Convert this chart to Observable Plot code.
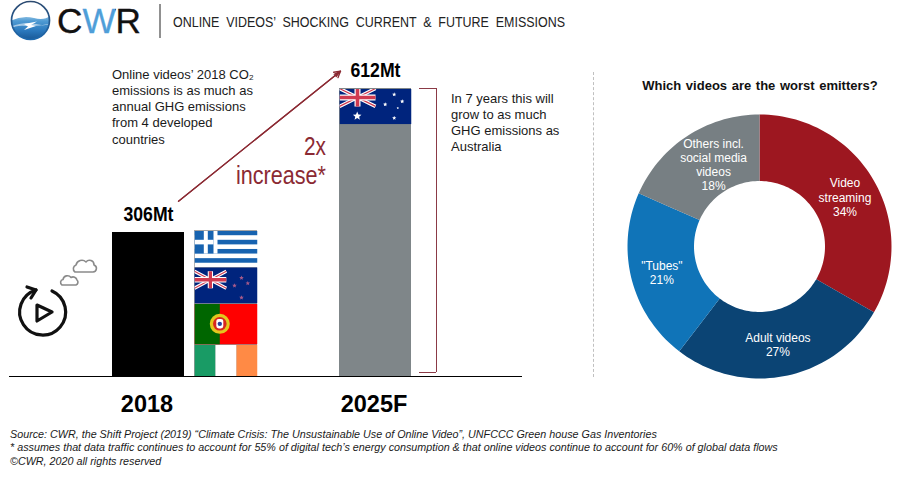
<!DOCTYPE html>
<html><head><meta charset="utf-8">
<script src="https://cdn.jsdelivr.net/npm/d3@7"></script>
<script src="https://cdn.jsdelivr.net/npm/@observablehq/plot@0.6"></script>
<style>
html,body{margin:0;padding:0;background:#fff}
#page{position:relative;width:905px;height:485px;overflow:hidden;font-family:"Liberation Sans",Arial,sans-serif;color:#111}
#page>*{position:absolute}
#page svg{overflow:visible}
.note{font-size:13px;line-height:16.3px;white-space:pre;color:#1a1a1a}
</style></head><body>
<div id="page">
<svg style="left:0;top:0" width="600" height="44" viewBox="0 0 600 44">
 <defs>
  <linearGradient id="g" x1="0" y1="0" x2="0" y2="1"><stop offset="0" stop-color="#a9cfe9"/><stop offset=".25" stop-color="#4f9bd3"/><stop offset=".6" stop-color="#2a78bd"/><stop offset="1" stop-color="#14508c"/></linearGradient>
  <linearGradient id="ring" x1="0" y1="0" x2="0" y2="1"><stop offset="0" stop-color="#2c4a70"/><stop offset="1" stop-color="#1d68ad"/></linearGradient>
  <linearGradient id="cwr" gradientUnits="userSpaceOnUse" x1="57" y1="0" x2="141" y2="0"><stop offset=".301" stop-color="#111"/><stop offset=".301" stop-color="#4f9ed8"/><stop offset=".694" stop-color="#4f9ed8"/><stop offset=".694" stop-color="#111"/></linearGradient>
  <clipPath id="globe"><circle cx="30.500" cy="20.500" r="19"/></clipPath>
 </defs>
 <circle cx="30.500" cy="20.500" r="19" fill="#fff"/>
 <g clip-path="url(#globe)">
  <path d="M10 21Q22 15 34 18T52 14V42H10Z" fill="url(#g)"/>
  <path d="M10 27Q24 21 36 24T52 22V23Q38 27 26 26T10 30Z" fill="#cfe3f2" opacity=".7"/>
  <path d="M24 24L37 21.500L31 25L36 26L24 30L28 26.500Z" fill="#fff"/>
 </g>
 <circle cx="30.500" cy="20.500" r="19" fill="none" stroke="url(#ring)" stroke-width="1.700"/>
 <text x="57" y="33" font-size="35" textLength="84" lengthAdjust="spacingAndGlyphs" fill="url(#cwr)" stroke="url(#cwr)" stroke-width=".3">CWR</text>
 <line x1="160" y1="4" x2="160" y2="38" stroke="#222" stroke-width="1"/>
 <text x="173" y="27" font-size="15" word-spacing="4" textLength="392" lengthAdjust="spacingAndGlyphs" fill="#222">ONLINE VIDEOS’ SHOCKING CURRENT &amp; FUTURE EMISSIONS</text>
</svg>
<div id="bars" style="left:0;top:0"></div>
<div class="note" style="left:112px;top:66.500px">Online videos’ 2018 CO₂
emissions is as much as
annual GHG emissions
from 4 developed
countries</div>
<svg style="left:225px;top:130px" width="105" height="60" viewBox="225 130 105 60">
 <g font-size="25.500" fill="#8b2a33" text-anchor="end">
  <text x="326" y="155" textLength="22" lengthAdjust="spacingAndGlyphs">2x</text>
  <text x="326" y="183.500" textLength="90" lengthAdjust="spacingAndGlyphs">increase*</text>
 </g>
</svg>
<div class="note" style="left:451px;top:90.500px">In 7 years this will
grow to as much
GHG emissions as
Australia</div>
<svg style="left:14px;top:255px" width="85" height="85" viewBox="14 255 85 85" fill="none">
 <g stroke="#111" stroke-width="3.200" stroke-linecap="round" stroke-linejoin="round">
  <path d="M52 291A23 23 0 1 1 36 290"/>
  <path d="M27 287L36 290L31 298"/>
  <path d="M37 305L52 312L37 321Z"/>
 </g>
 <g stroke="#8a8a8a" stroke-width="1.600" stroke-linejoin="round">
  <path d="M75 272a4 4 0 0 1 1-7a6 6 0 0 1 10-3a4.500 4.500 0 0 1 8 3a3.600 3.600 0 0 1-1 7z"/>
  <path d="M62 285a3 3 0 0 1 1-5.500a4.500 4.500 0 0 1 8-2a4 4 0 0 1 6 2.500a3 3 0 0 1-1 5z"/>
 </g>
</svg>
<div style="left:593px;top:72px;height:305px;border-left:1px dashed #c0c0c0"></div>
<div style="left:610px;width:300px;top:78px;text-align:center;font-size:13px;font-weight:bold;color:#111;word-spacing:1px">Which videos are the worst emitters?</div>
<div id="donut" style="left:627px;top:114px"></div>
<div style="left:10px;top:427.500px;font-size:10.750px;line-height:13.600px;font-style:italic;white-space:pre;color:#1a1a1a">Source: CWR, the Shift Project (2019) “Climate Crisis: The Unsustainable Use of Online Video”, UNFCCC Green house Gas Inventories
* assumes that data traffic continues to account for 55% of digital tech’s energy consumption &amp; that online videos continue to account for 60% of global data flows
©CWR, 2020 all rights reserved</div>
</div>
<script>
// ---- data ----
const barYears = ["2018", "2025F"];
const barValues = [306, 612];
const barColors = ["#000000", "#7f8689"];
const countries = ["Ireland", "Portugal", "New Zealand", "Greece"];
const countryValues = [68, 87, 77, 78];
const australiaValue = 76;
const videoTypes = ["Video streaming", "Adult videos", "\"Tubes\"", "Others incl. social media videos"];
const videoShares = [33.3, 27.1, 21.2, 18.4];
const videoLabels = ["Video\nstreaming\n34%", "Adult videos\n27%", "\"Tubes\"\n21%", "Others incl.\nsocial media\nvideos\n18%"];
const videoColors = ["#9d1720", "#0b4474", "#1074b8", "#777f83"];
const labelDx = [0, -1, -2, 8];
const labelDy = [0, 1, 1, 0.5];
const xSlots = ["2018", "Countries", "gap", "2025F"];

// ---- flags, as small pictures ----
const uri = s => "data:image/svg+xml," + encodeURIComponent(s);
const union = `<rect width="30" height="15" fill="#00247d"/><path d="M0 0L30 15M30 0L0 15" stroke="#fff" stroke-width="3"/><path d="M0 0L30 15M30 0L0 15" stroke="#cf3a50" stroke-width="1"/><path d="M15 0V15M0 7.500H30" stroke="#fff" stroke-width="5"/><path d="M15 0V15M0 7.500H30" stroke="#cf3a50" stroke-width="3"/>`;
const star = (x, y, r, c) => {
  let p = "";
  for (let i = 0; i < 10; i++) { const a = i * Math.PI / 5, q = i % 2 ? r * .45 : r; p += (i ? "L" : "M") + (x + q * Math.sin(a)).toFixed(2) + " " + (y - q * Math.cos(a)).toFixed(2); }
  return `<path d="${p}Z" fill="${c}"/>`;
};
const svgFlag = (w, h, body) => uri(`<svg xmlns="http://www.w3.org/2000/svg" viewBox="0 0 ${w} ${h}" preserveAspectRatio="none">${body}</svg>`);
const greece = svgFlag(63, 36.8, `<rect width="63" height="36.8" fill="#fff"/>` +
  [0, 9.2, 18.4, 27.6].map(y => `<rect y="${y}" width="63" height="4.600" fill="#1763b0"/>`).join("") +
  `<rect width="23" height="23" fill="#fff"/><rect width="19" height="23" fill="#1763b0"/><rect x="9.300" width="4" height="23" fill="#fff"/><rect y="9.200" width="19" height="4.600" fill="#fff"/>`);
const newZealand = svgFlag(63, 36.3, `<rect width="63" height="36.3" fill="#00247d"/><g transform="translate(0 4) scale(1.06 1.13)">${union}</g>` +
  star(47, 10.6, 2.4, "#a65a8a") + star(53.3, 16, 2.4, "#a65a8a") + star(40, 18.3, 2.4, "#a65a8a") + star(47, 30.3, 2.4, "#a65a8a"));
const portugal = svgFlag(63, 41, `<rect width="63" height="41" fill="#ff0000"/><rect width="25.300" height="41" fill="#006600"/><circle cx="25.300" cy="20.300" r="10" fill="#e3c71e"/><circle cx="25.300" cy="20.300" r="6.800" fill="#d9271e"/><rect x="21.800" y="15.500" width="7" height="9.500" rx="2.500" fill="#fff"/><circle cx="25.300" cy="20.300" r="2.200" fill="#2a3f9d"/>`);
const ireland = svgFlag(63, 32, `<rect width="21" height="32" fill="#199b65"/><rect x="21" width="21" height="32" fill="#fff"/><rect x="42" width="21" height="32" fill="#ff8a45"/>`);
const australia = svgFlag(72, 36, `<rect width="72" height="36" fill="#00247d"/><g transform="scale(1.2)">${union}</g>` +
  star(17.7, 27.700, 4.500, "#fff") + star(54.7, 6, 2.200, "#fff") + star(62.7, 13, 2.200, "#fff") + star(45.7, 16, 2.200, "#fff") + star(54.7, 29.7, 2.200, "#fff") + star(58.3, 19.7, 1.300, "#fff"));
const flagFor = {Ireland: ireland, Portugal: portugal, "New Zealand": newZealand, Greece: greece};

// ---- tables ----
const bars = barYears.map((year, i) => ({year, value: barValues[i], color: barColors[i]}));
const tops = d3.cumsum(countryValues);
const stack = countries.map((name, i) => ({name, value: countryValues[i], mid: tops[i] - countryValues[i] / 2, slot: "Countries"}));
const plotH = 485, baseY = 376, topY = 88;
const pxPerMt = (baseY - topY) / 612;
const arrowLine = [{a: "2018", b: "2025F"}];
const arrowOpts = {x1: "a", x2: "b", y1: () => 321.3, y2: () => 708.5, bend: 0, insetStart: 38.5, insetEnd: 44.9, headLength: 8, stroke: "#8b2a33", strokeWidth: 1.3};

const barChart = Plot.plot({
  width: 905, height: plotH, marginLeft: 9, marginRight: 383, marginTop: 0, marginBottom: plotH - baseY,
  style: {background: "transparent", fontFamily: "'Liberation Sans',Arial,sans-serif"},
  x: {type: "band", domain: xSlots, range: [112, 411], paddingInner: 0.0485, paddingOuter: 0, round: false},
  y: {domain: [0, 612], range: [baseY, topY], axis: null},
  marks: [
    Plot.barY(bars, {x: "year", y: "value", fill: "color"}),
    Plot.barY(stack, {x: "slot", y: "value", fill: "#999", order: null, insetLeft: 6.33, insetRight: 2.67}),
    Plot.image(stack, {x: "slot", y: "mid", width: 63, height: d => d.value * pxPerMt, src: d => flagFor[d.name], preserveAspectRatio: "none", dx: 1.83}),
    Plot.image([{year: "2025F", mid: 612 - australiaValue / 2}], {x: "year", y: "mid", width: 72, height: australiaValue * pxPerMt, src: () => australia, preserveAspectRatio: "none"}),
    Plot.text(bars, {x: "year", y: "value", text: d => d.value + "Mt", dy: -17.5, fontSize: 20, fontWeight: "bold", fill: "#000", className: "valueLabel"}),
    Plot.ruleY([0], {stroke: "#000", strokeWidth: 1}),
    Plot.axisX(barYears, {anchor: "bottom", tickSize: 0, tickPadding: 19, dx: -1.5, fontSize: 23.500, fontWeight: "bold", label: null, fill: "#000", tickFormat: d => d}),
    Plot.arrow(arrowLine, arrowOpts),
    Plot.arrow(arrowLine, {...arrowOpts, headAngle: 25}),
    Plot.ruleX(["2025F"], {x: d => d, y1: 8.5, y2: 612, dx: 61, stroke: "#8b3a46", strokeWidth: 1}),
    Plot.tickY([8.5, 612], {x: () => "2025F", y: d => d, dx: 80, insetRight: 55, stroke: "#8b3a46", strokeWidth: 1})
  ]
});
// squeeze the value labels to the condensed look of the reference
barChart.querySelectorAll(".valueLabel text").forEach(t => {
  t.setAttribute("textLength", 50);
  t.setAttribute("lengthAdjust", "spacingAndGlyphs");
});
document.getElementById("bars").append(barChart);

// ---- doughnut: ring of wedges on a polar projection ----
const OUTER = 60, INNER = 60 * 65.5 / 132;
const total = d3.sum(videoShares);
const ends = d3.cumsum(videoShares);
const toLon = turn => 180 - turn * 360;
const wedge = (a, b) => {
  const n = Math.max(2, Math.ceil((b - a) * 180));
  const arc = d3.range(n + 1).map(i => a + (b - a) * i / n);
  const ring = [...arc.map(t => [toLon(t), 90 - OUTER]), ...arc.reverse().map(t => [toLon(t), 90 - INNER])];
  ring.push(ring[0]);
  return {type: "Polygon", coordinates: [ring]};
};
const slices = videoTypes.map((name, i) => {
  const a = (ends[i] - videoShares[i]) / total, b = ends[i] / total;
  return {name, label: videoLabels[i], geometry: wedge(a, b), lon: toLon((a + b) / 2), lat: 90 - (OUTER + INNER) / 2};
});
document.getElementById("donut").append(Plot.plot({
  width: 264, height: 264, margin: 0,
  style: {background: "transparent", fontFamily: "'Liberation Sans',Arial,sans-serif"},
  projection: {type: "azimuthal-equidistant", rotate: [0, -90], domain: d3.geoCircle().center([0, 90]).radius(OUTER)()},
  color: {domain: videoTypes, range: videoColors},
  marks: [
    Plot.geo(slices.map(s => ({type: "Feature", properties: s, geometry: s.geometry})), {fill: d => d.properties.name}),
    ...slices.map((s, i) => Plot.text([s], {x: "lon", y: "lat", text: "label", fill: "#fff", fontSize: 12, lineHeight: 1.17, dx: labelDx[i], dy: labelDy[i]}))
  ]
}));
</script>
</body></html>
